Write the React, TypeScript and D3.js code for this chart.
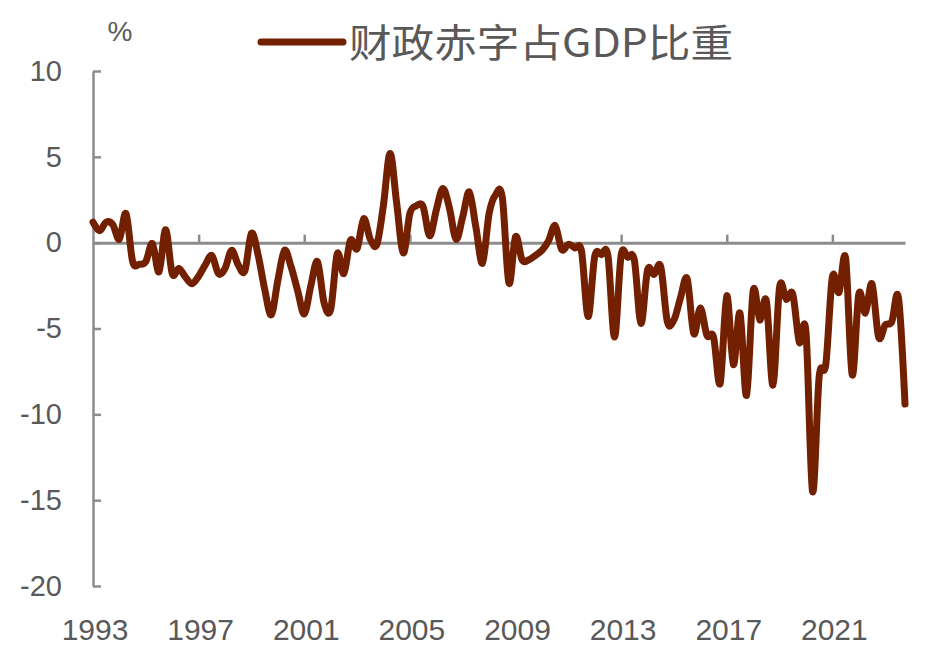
import { useEffect, useRef } from "react";
import * as d3 from "d3";

// quarterly series, 1993Q1 .. 2023Q4 (%)
const years = d3.range(1993, 2024);
const quarters = years.flatMap((y) => [1, 2, 3, 4].map((q) => `${y}Q${q}`));

const deficitRatio = [
  1.2, 0.7, 1.2, 1.05, 0.2, 1.7, -1.1, -1.25, -1.1, -0.05,
  -1.7, 0.75, -1.8, -1.5, -2.0, -2.4, -1.95, -1.3, -0.75, -1.8,
  -1.5, -0.45, -1.3, -1.65, 0.55, -0.7, -2.7, -4.2, -2.2, -0.45,
  -1.4, -2.8, -4.15, -2.5, -1.1, -3.5, -3.9, -0.65, -1.8, 0.15,
  -0.35, 1.4, 0.2, -0.1, 2.2, 5.2, 2.3, -0.6, 1.7, 2.15,
  2.1, 0.4, 1.9, 3.15, 2.0, 0.2, 1.5, 2.95, 0.9, -1.2,
  1.7, 2.8, 2.65, -2.35, 0.35, -1.0, -1.0, -0.75, -0.45, 0.1,
  1.0, -0.4, -0.1, -0.3, -0.5, -4.3, -0.8, -0.7, -0.75, -5.5,
  -0.75, -0.85, -1.0, -4.7, -1.6, -1.85, -1.4, -4.6, -4.5, -3.2,
  -2.1, -5.3, -3.8, -5.4, -5.5, -8.2, -3.1, -7.1, -4.1, -8.9,
  -2.8, -4.5, -3.4, -8.3, -2.6, -3.3, -3.0, -5.8, -5.2, -14.5,
  -7.8, -7.1, -2.0, -2.9, -0.9, -7.7, -3.0, -4.1, -2.4, -5.5,
  -4.8, -4.6, -3.2, -9.4,
];

const yTicks = [-20, -15, -10, -5, 0, 5, 10];
const xTickLabels = ["1993", "1997", "2001", "2005", "2009", "2013", "2017", "2021"];
const seriesName = "财政赤字占GDP比重";

export default function App() {
  const svgRef = useRef<SVGSVGElement | null>(null);

  useEffect(() => {
    if (!svgRef.current) return;
    const width = 928;
    const height = 659;
    const svg = d3.select(svgRef.current);
    svg.selectAll("*").remove();

    const lineColor = "#722000";
    const axisColor = "#8c8c8c";
    const textColor = "#595959";
    const font = "'Liberation Sans', Arial, sans-serif";

    const x = d3.scalePoint<string>().domain(quarters).range([93, 905]);
    const y = d3.scaleLinear().domain([-20, 10]).range([586, 71]);

    // y axis (ticks point inward)
    const yAxis = svg
      .append("g")
      .attr("transform", `translate(93,0)`)
      .call(
        d3
          .axisLeft(y)
          .tickValues(yTicks)
          .tickSizeInner(-8)
          .tickSizeOuter(0)
          .tickPadding(31)
          .tickFormat((d) => String(d))
      );
    yAxis.select(".domain").attr("stroke", axisColor).attr("stroke-width", 2.5);
    yAxis.selectAll(".tick line").attr("stroke", axisColor).attr("stroke-width", 2.5);
    yAxis
      .selectAll("text")
      .attr("fill", textColor)
      .attr("font-size", 29)
      .attr("font-family", font);

    // x axis sits on the zero line, ticks point up
    const tickQuarters = xTickLabels.map((yr) => `${yr}Q1`);
    const xAxis = svg
      .append("g")
      .attr("transform", `translate(0,${y(0)})`)
      .call(
        d3
          .axisTop(x)
          .tickValues(tickQuarters.slice(1))
          .tickSizeInner(8)
          .tickSizeOuter(0)
          .tickFormat(() => "")
      );
    xAxis.select(".domain").attr("stroke", axisColor).attr("stroke-width", 3);
    xAxis.selectAll(".tick line").attr("stroke", axisColor).attr("stroke-width", 2.5);

    // year labels along the bottom
    svg
      .append("g")
      .selectAll("text")
      .data(xTickLabels)
      .join("text")
      .attr("x", (d) => (x(`${d}Q1`) ?? 0) + 2)
      .attr("y", 640)
      .attr("text-anchor", "middle")
      .attr("fill", textColor)
      .attr("font-size", 30)
      .attr("font-family", font)
      .text((d) => d);

    // unit
    svg
      .append("text")
      .attr("x", 120)
      .attr("y", 41)
      .attr("text-anchor", "middle")
      .attr("fill", textColor)
      .attr("font-size", 28)
      .attr("font-family", font)
      .text("%");

    // series line
    const line = d3
      .line<number>()
      .x((_, i) => x(quarters[i]) ?? 0)
      .y((d) => y(d))
      .curve(d3.curveCardinal.tension(0));

    svg
      .append("path")
      .datum(deficitRatio)
      .attr("fill", "none")
      .attr("stroke", lineColor)
      .attr("stroke-width", 7)
      .attr("stroke-linejoin", "round")
      .attr("stroke-linecap", "round")
      .attr("d", line);

    // legend
    const legend = svg.append("g");
    legend
      .append("line")
      .attr("x1", 261)
      .attr("x2", 343)
      .attr("y1", 42)
      .attr("y2", 42)
      .attr("stroke", lineColor)
      .attr("stroke-width", 7)
      .attr("stroke-linecap", "round");
    legend
      .append("text")
      .attr("x", 349)
      .attr("y", 57)
      .attr("fill", textColor)
      .attr("font-size", 39)
      .attr("font-family", "'Noto Sans CJK SC', 'Liberation Sans', sans-serif")
      .attr("textLength", 384)
      .attr("lengthAdjust", "spacingAndGlyphs")
      .text(seriesName);

    svg.attr("width", width).attr("height", height);
  }, []);

  return (
    <div style={{ position: "absolute", left: 0, top: 0, width: 928, height: 659, background: "#fff" }}>
      <svg ref={svgRef} width={928} height={659} style={{ display: "block" }}></svg>
    </div>
  );
}
